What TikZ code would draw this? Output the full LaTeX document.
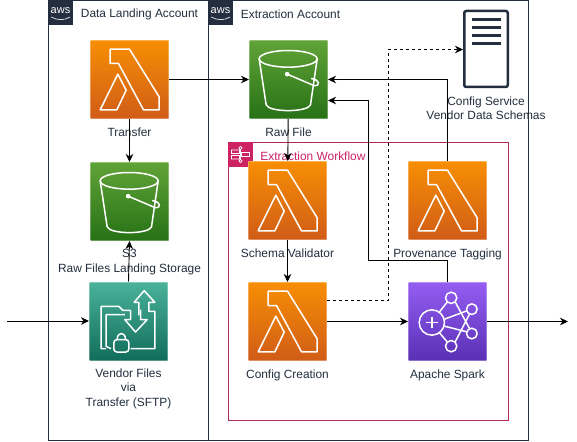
\documentclass[tikz,border=0pt]{standalone}
\usepackage{fontspec}
\setmainfont{Liberation Sans}
\usetikzlibrary{arrows.meta, positioning}

\definecolor{awsdark}{HTML}{232F3E}
\definecolor{stepspink}{HTML}{CD2264}
\definecolor{flowline}{HTML}{B0265F}

\tikzset{
  iconbox/.style={minimum size=78pt, inner sep=0pt, draw=white, draw opacity=0.3, line width=1pt},
  lambdabox/.style={iconbox, top color={rgb,255:red,247;green,142;blue,4}, bottom color={rgb,255:red,208;green,92;blue,23}},
  bucketbox/.style={iconbox, top color={rgb,255:red,96;green,163;blue,55}, bottom color={rgb,255:red,39;green,113;blue,22}},
  sftpbox/.style={iconbox, top color={rgb,255:red,74;green,178;blue,154}, bottom color={rgb,255:red,17;green,109;blue,91}},
  sparkbox/.style={iconbox, top color={rgb,255:red,148;green,93;blue,242}, bottom color={rgb,255:red,90;green,48;blue,181}},
  lbl/.style={font=\fontsize{11.9}{14.3}\selectfont, text=awsdark, align=center, inner sep=0pt},
  account/.style={draw=awsdark, line width=1pt},
  ink/.style={draw=white, line width=1.5pt, line join=round},
  lambdaicon/.pic={
    \begin{scope}[scale=1/3, shift={(-129,-129)}]
      \draw[ink] (71,38) -- (129,38) -- (218,181) -- (218,220) -- (171,220) -- (96,81) -- (71,81) -- cycle;
      \draw[ink] (94,113) -- (119,161) -- (91,220) -- (41,220) -- cycle;
    \end{scope}
  },
  bucketicon/.pic={
    \begin{scope}[scale=1/3, shift={(-129,-129)}]
      \draw[ink] (128,67) ellipse (87 and 25);
      \draw[ink] (41,67) -- (62,205) .. controls (70,228) and (187,228) .. (195,205) -- (215,67);
      \fill[white] (125,113) circle (7);
      \draw[ink] (125,113) -- (205,147) .. controls (225,150) and (225,130) .. (197,126);
    \end{scope}
  },
  sftpicon/.pic={
    \begin{scope}[scale=1/3, shift={(-129,-129)}]
      \draw[ink] (160,112) -- (160,73) -- (146,73) -- (176,38) -- (208,73) -- (190,73) -- (190,100) -- (208,100) -- (208,212) -- (135,212);
      \draw[ink] (135,97) -- (135,125) -- (118,125) -- (150,162) -- (185,125) -- (165,125) -- (165,95);
      \draw[ink] (62,212) -- (47,212) -- (47,85) -- (100,85) -- (112,97) -- (135,97);
      \draw[ink] (76,212) -- (62,205) -- (62,110) -- (118,110);
      \draw[ink, rounded corners=3pt] (85,185) rectangle (130,222);
      \draw[ink] (95,185) .. controls (95,160) and (120,160) .. (120,185);
    \end{scope}
  },
  sparkicon/.pic={
    \begin{scope}[scale=1/3, shift={(-129,-129)}]
      \draw[ink] (82,132) circle (38);
      \draw[ink] (65,132) -- (99,132) (82,115) -- (82,149);
      \draw[ink] (140,58) circle (17) (202,92) circle (16) (202,165) circle (16) (140,203) circle (17);
      \draw[ink] (105,100) -- (128,71) (120,122) -- (187,97) (120,143) -- (187,160) (105,163) -- (128,190);
      \draw[ink] (152,70) -- (195,150) (152,190) -- (195,107);
    \end{scope}
  },
  flowicon/.pic={
    \draw[draw=white, line width=0.7pt]
      (0,-5) -- (0,5) (0,-6.5) circle (1.6) (0,6.5) circle (1.6)
      (1,-2) rectangle (9,2)
      (-9,-4.5) rectangle (-1,-1) (-9,1) rectangle (-1,4.5);
  },
  awsicon/.pic={
    \node[text=white, inner sep=0pt, font=\fontsize{11}{11}\selectfont] (word) at (0,-2.2) {aws};
    \draw[white, line width=0.6pt] (-9.5,4.5) .. controls (-3,8) and (4,8) .. (9.5,4.5);
  },
  docicon/.pic={
    \foreach \barY in {20,28,35.7,43.3}
      \draw[awsdark, line width=3pt] (-14.5,\barY-49) -- (14.5,\barY-49);
  }
}

\begin{document}
\begin{tikzpicture}[x=1pt, y=-1pt, >={Stealth[length=8pt,width=7.5pt,inset=2.5pt]}, line width=0.9pt]
  \useasboundingbox (0,0) rectangle (577,441);
  \fill[white] (0,0) rectangle (577,441);

  % accounts
  \draw[account] (48.5,0.5) rectangle (208.5,440) (208.5,0.5) rectangle (528.5,440);
  \node[fill=awsdark, minimum size=25pt, inner sep=0pt] (awsa) at (60.5,12.5) {};
  \node[fill=awsdark, minimum size=25pt, inner sep=0pt] (awsb) at (220.5,12.5) {};
  \pic (awsap) at (awsa) {awsicon};
  \pic (awsbp) at (awsb) {awsicon};
  \node[lbl, anchor=west] (landing) at (80.5,14) {Data Landing Account};
  \node[lbl, anchor=west] (extraction) at (240.5,14) {Extraction Account};

  % workflow frame
  \draw[flowline, line width=1pt] (228.5,142.5) rectangle (508.5,420.5);
  \node[fill=stepspink, minimum size=25pt, inner sep=0pt] (flowtag) at (240.5,154.5) {};
  \pic at (flowtag) {flowicon};
  \node[lbl, anchor=west, text=stepspink] (flowname) at (260,156) {Extraction Workflow};

  % services
  \node[lambdabox] (transfer) at (129.5,79.5) {};
  \node[bucketbox, below=43pt of transfer.south, anchor=north] (landingS3) {};
  \node[sftpbox] (vendor) at (128.5,321) {};
  \node[bucketbox, right=80pt of transfer.east, anchor=west] (raw) {};
  \node[lambdabox] (validator) at (287.5,200.5) {};
  \node[lambdabox] (creation) at (287.5,321.5) {};
  \node[lambdabox] (tagging) at (447.5,200.5) {};
  \node[sparkbox] (spark) at (447.5,321.5) {};
  \node[draw=awsdark, line width=2.5pt, rounded corners=2pt, minimum width=43.5pt, minimum height=76pt, inner sep=0pt] (config) at (486,49) {};

  \foreach \boxname in {transfer, validator, creation, tagging}
    \pic at (\boxname) {lambdaicon};
  \pic at (landingS3) {bucketicon};
  \pic at (raw) {bucketicon};
  \pic at (vendor) {sftpicon};
  \pic at (spark) {sparkicon};
  \pic at (config) {docicon};

  % labels
  \node[lbl, below=8pt of transfer] (transferlbl) {Transfer};
  \node[lbl, below=8pt of landingS3] (landinglbl) {S3\\Raw Files Landing Storage};
  \node[lbl, below=8pt of vendor] (vendorlbl) {Vendor Files\\via\\Transfer (SFTP)};
  \node[lbl, below=8pt of raw] (rawlbl) {Raw File};
  \node[lbl, below=8pt of validator] (validatorlbl) {Schema Validator};
  \node[lbl, below=8pt of creation] (creationlbl) {Config Creation};
  \node[lbl, below=8pt of tagging] (tagginglbl) {Provenance Tagging};
  \node[lbl, below=8pt of spark] (sparklbl) {Apache Spark};
  \node[lbl, below=8pt of config] (configlbl) {Config Service\\Vendor Data Schemas};

  % free ends
  \coordinate (inlet) at (7,321);
  \coordinate (outlet) at (568,321.5);
  \coordinate (rawlow) at (raw.east |- 0,100.5);
  \coordinate (creationhigh) at (creation.east |- 0,300.5);
  \coordinate (configin) at (config.west |- 0,49.5);

  \path[->]
    (transfer) edge (raw)
    (transfer) edge (landingS3)
    (vendor.north) edge (landingS3.south)
    (inlet) edge (vendor)
    (raw) edge (validator)
    (validator) edge (creation)
    (creation) edge (spark)
    (spark) edge (outlet);

  \draw[->] (tagging.north) |- (raw.east);
  \draw[->] (spark.north) -- ++(0,-21.5) -| (368.5,100.5) -- (rawlow);
  \draw[->, dashed, dash pattern=on 3pt off 3pt] (creationhigh) -| (388.5,49.5) -- (configin);
\end{tikzpicture}
\end{document}
